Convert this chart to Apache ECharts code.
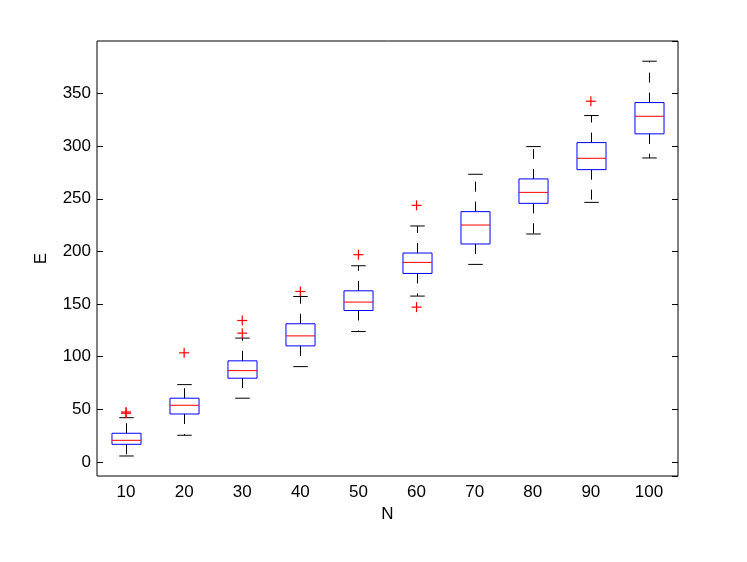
<!DOCTYPE html>
<html>
<head>
<meta charset="utf-8">
<script src="https://cdn.jsdelivr.net/npm/echarts@6/dist/echarts.min.js"></script>
<style>
  html, body { margin: 0; padding: 0; background: #fff; }
  #chart { width: 747px; height: 562px; }
</style>
</head>
<body>
<div id="chart"></div>
<script>
const categories = ['10', '20', '30', '40', '50', '60', '70', '80', '90', '100'];
const lowWhisker = [5.7, 25.4, 60.6, 90.6, 123.9, 157.6, 187.7, 216.6, 246.6, 288.8];
const q1Values = [16.8, 45.6, 79.6, 110.3, 143.9, 179.1, 207.1, 245.7, 277.7, 311.7];
const medianValues = [20.6, 53.9, 86.8, 119.8, 151.9, 189.6, 225.1, 256.1, 288.5, 328.4];
const q3Values = [27.3, 60.6, 96.1, 131.3, 162.6, 198.5, 237.8, 268.9, 303.4, 341.4];
const highWhisker = [42.1, 73.5, 117.7, 157.2, 186.4, 224.2, 273.3, 299.6, 329.1, 380.7];
const outlierCategory = [0, 0, 1, 2, 2, 3, 4, 5, 5, 8];
const outlierValue = [47.5, 46.3, 103.7, 122.4, 134.4, 162, 196.9, 243.8, 147.1, 342.7];
const yTickLabels = [0, 50, 100, 150, 200, 250, 300, 350];

const boxData = categories.map((c, i) => [i, lowWhisker[i], q1Values[i], medianValues[i], q3Values[i], highWhisker[i]]);
const outlierData = outlierCategory.map((c, i) => [c, outlierValue[i]]);

const FONT = 'Liberation Sans, Arial, Helvetica, sans-serif';

function renderBox(params, api) {
  const idx = api.value(0);
  const lo = api.coord([idx, api.value(1)]);
  const q1 = api.coord([idx, api.value(2)]);
  const med = api.coord([idx, api.value(3)]);
  const q3 = api.coord([idx, api.value(4)]);
  const hi = api.coord([idx, api.value(5)]);
  const band = api.size([1, 0])[0];
  const bw = band * 0.5;
  const cw = band * 0.25;
  const cx = Math.round(lo[0]) + 0.5;
  const dash = { stroke: '#000', lineWidth: 1, lineDash: [10, 10], fill: null };
  const solid = { stroke: '#000', lineWidth: 1, fill: null };
  return {
    type: 'group',
    children: [
      { type: 'line', shape: { x1: cx, y1: q3[1], x2: cx, y2: hi[1] }, style: dash },
      { type: 'line', shape: { x1: cx, y1: q1[1], x2: cx, y2: lo[1] }, style: dash },
      { type: 'line', shape: { x1: cx - cw / 2, y1: hi[1], x2: cx + cw / 2, y2: hi[1] }, style: solid },
      { type: 'line', shape: { x1: cx - cw / 2, y1: lo[1], x2: cx + cw / 2, y2: lo[1] }, style: solid },
      { type: 'rect', shape: { x: cx - bw / 2, y: q3[1], width: bw, height: q1[1] - q3[1] },
        style: { stroke: '#0000ff', lineWidth: 1, fill: null } },
      { type: 'line', shape: { x1: cx - bw / 2, y1: med[1], x2: cx + bw / 2, y2: med[1] },
        style: { stroke: '#ff0000', lineWidth: 1, fill: null } }
    ]
  };
}

function renderOutlier(params, api) {
  const p = api.coord([api.value(0), api.value(1)]);
  const s = 5;
  const st = { stroke: '#ff0000', lineWidth: 1.2, fill: null };
  return {
    type: 'group',
    children: [
      { type: 'line', shape: { x1: p[0] - s, y1: p[1], x2: p[0] + s, y2: p[1] }, style: st },
      { type: 'line', shape: { x1: p[0], y1: p[1] - s, x2: p[0], y2: p[1] + s }, style: st }
    ]
  };
}

const yCommon = {
  type: 'value',
  min: -13.3,
  max: 399.9,
  splitNumber: 8,
  minInterval: 50,
  maxInterval: 50,
  splitLine: { show: false },
  axisLine: { show: false },
  axisTick: { show: true, inside: true, length: 6, lineStyle: { color: '#000', width: 1 } }
};

const chart = echarts.init(document.getElementById('chart'), null, { renderer: 'canvas' });
chart.setOption({
  animation: false,
  backgroundColor: '#fff',
  grid: {
    left: 97, right: 69, top: 41, bottom: 86,
    show: true, borderColor: '#000', borderWidth: 1, backgroundColor: '#fff'
  },
  xAxis: {
    type: 'category',
    data: categories,
    name: 'N',
    nameLocation: 'middle',
    nameGap: 24,
    nameTextStyle: { fontFamily: FONT, fontSize: 17, color: '#000' },
    axisLine: { show: false },
    axisTick: { show: false },
    axisLabel: { fontFamily: FONT, fontSize: 17, color: '#000', margin: 8 },
    splitLine: { show: false }
  },
  yAxis: [
    Object.assign({}, yCommon, {
      position: 'left',
      name: 'E',
      nameLocation: 'middle',
      nameGap: 47,
      nameTextStyle: { fontFamily: FONT, fontSize: 17, color: '#000' },
      axisLabel: {
        fontFamily: FONT, fontSize: 17, color: '#000', margin: 6,
        showMinLabel: false, showMaxLabel: false,
        formatter: v => (yTickLabels.indexOf(Math.round(v)) >= 0 && Math.abs(v - Math.round(v)) < 1e-6 ? String(Math.round(v)) : '')
      }
    }),
    Object.assign({}, yCommon, {
      position: 'right',
      axisLabel: { show: false }
    })
  ],
  series: [
    {
      type: 'custom',
      renderItem: renderBox,
      data: boxData,
      encode: { x: 0, y: [1, 2, 3, 4, 5] },
      xAxisIndex: 0, yAxisIndex: 0,
      z: 3
    },
    {
      type: 'custom',
      renderItem: renderOutlier,
      data: outlierData,
      encode: { x: 0, y: 1 },
      xAxisIndex: 0, yAxisIndex: 0,
      z: 4
    }
  ]
});
</script>
</body>
</html>
